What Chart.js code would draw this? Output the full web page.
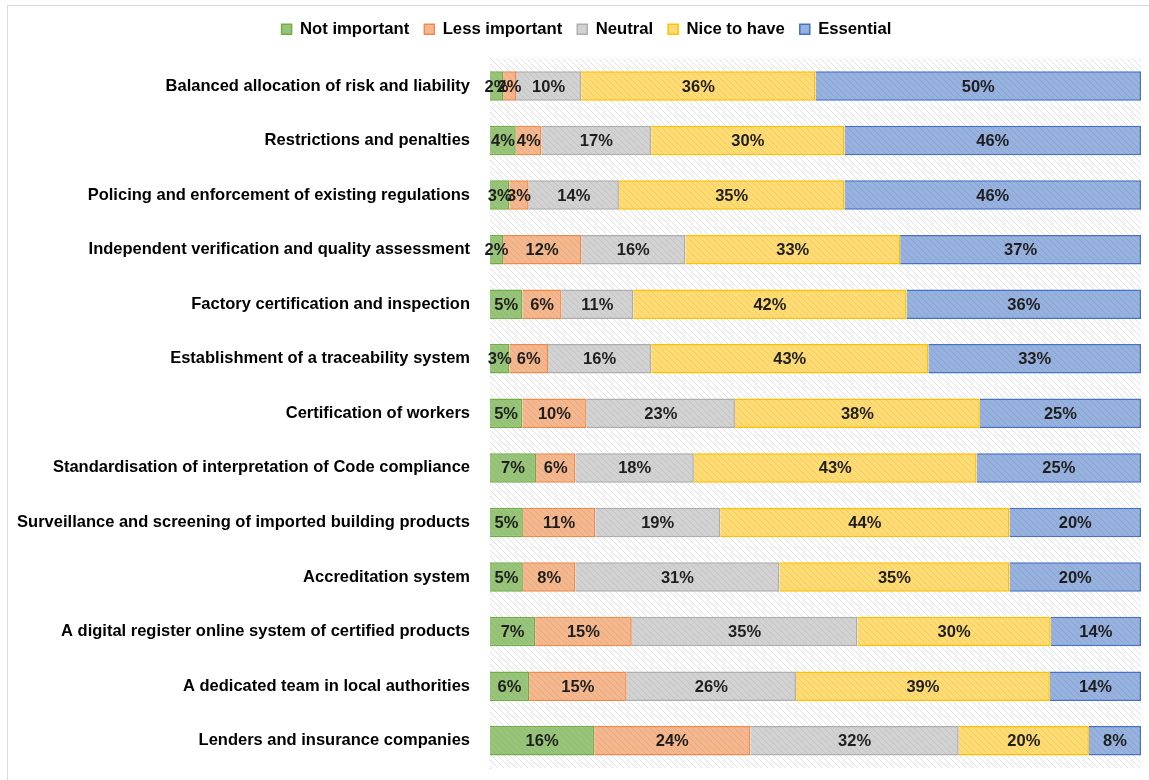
<!DOCTYPE html>
<html lang="en">
<head>
  <meta charset="UTF-8">
  <title>Importance of measures</title>
  <script src="https://cdn.jsdelivr.net/npm/chart.js"></script>
  <style>
    body { margin: 0; background: #fff; }
    #wrap { position: relative; width: 1149px; height: 780px; }
    #frame { position: absolute; left: 7px; top: 5px; width: 1150px; height: 790px; border: 1px solid #d9d9d9; pointer-events: none; }
  </style>
</head>
<body>
  <div id="wrap">
    <canvas id="grafico" width="1149" height="780"></canvas>
    <div id="frame"></div>
  </div>

  <script>
    const categories = [
      "Balanced allocation of risk and liability",
      "Restrictions and penalties",
      "Policing and enforcement of existing regulations",
      "Independent verification and quality assessment",
      "Factory certification and inspection",
      "Establishment of a traceability system",
      "Certification of workers",
      "Standardisation of interpretation of Code compliance",
      "Surveillance and screening of imported building products",
      "Accreditation system",
      "A digital register online system of certified products",
      "A dedicated team in local authorities",
      "Lenders and insurance companies"
    ];
    const notImportant  = [2, 4, 3, 2, 5, 3, 5, 7, 5, 5, 7, 6, 16];
    const lessImportant = [2, 4, 3, 12, 6, 6, 10, 6, 11, 8, 15, 15, 24];
    const neutral       = [10, 17, 14, 16, 11, 16, 23, 18, 19, 31, 35, 26, 32];
    const niceToHave    = [36, 30, 35, 33, 42, 43, 38, 43, 44, 35, 30, 39, 20];
    const essential     = [50, 46, 46, 37, 36, 33, 25, 25, 20, 20, 14, 14, 8];

    const series = [
      { label: "Not important",  raw: notImportant,  fill: "rgba(112,173,71,0.72)", line: "#70AD47" },
      { label: "Less important", raw: lessImportant, fill: "rgba(237,125,49,0.55)", line: "#F08A4B" },
      { label: "Neutral",        raw: neutral,       fill: "rgba(165,165,165,0.5)", line: "#AEAEAE" },
      { label: "Nice to have",   raw: niceToHave,    fill: "rgba(255,192,0,0.55)",  line: "#FFC000" },
      { label: "Essential",      raw: essential,     fill: "rgba(68,114,196,0.55)", line: "#4472C4" }
    ];

    // each row is drawn as 100% of its own total
    const totals = categories.map((c, i) => series.reduce((s, d) => s + d.raw[i], 0));

    const fuente = "'Liberation Sans', Arial, sans-serif";

    // hatched background for the plot area
    function hatch(ctx) {
      const c = document.createElement("canvas");
      c.width = 6; c.height = 6;
      const p = c.getContext("2d");
      p.fillStyle = "#fff";
      p.fillRect(0, 0, 6, 6);
      p.strokeStyle = "#e0e0e0";
      p.lineWidth = 1;
      p.beginPath();
      p.moveTo(-1, -1); p.lineTo(7, 7);
      p.moveTo(-1, 5); p.lineTo(1, 7);
      p.moveTo(5, -1); p.lineTo(7, 1);
      p.stroke();
      return ctx.createPattern(c, "repeat");
    }

    const fondo = {
      id: "fondo",
      afterInit(chart) {
        // leave some room between legend and plot
        const fit = chart.legend.fit;
        chart.legend.fit = function () { fit.call(this); this.height += 11; };
      },
      afterLayout(chart) {
        // legend is centred a bit to the right in the original
        chart.legend.left += 32;
      },
      beforeDatasetsDraw(chart) {
        const { ctx, chartArea: a } = chart;
        ctx.save();
        ctx.fillStyle = hatch(ctx);
        ctx.fillRect(a.left, a.top, a.right - a.left, a.bottom - a.top);
        ctx.restore();
      }
    };

    const etiquetas = {
      id: "etiquetas",
      afterDatasetsDraw(chart) {
        const ctx = chart.ctx;
        ctx.save();
        ctx.font = "bold 16.5px " + fuente;
        ctx.fillStyle = "#1e1e1e";
        ctx.textAlign = "center";
        ctx.textBaseline = "middle";
        chart.data.datasets.forEach((ds, di) => {
          chart.getDatasetMeta(di).data.forEach((el, i) => {
            ctx.fillText(ds.raw[i] + "%", (el.x + el.base) / 2, el.y + 1);
          });
        });
        ctx.restore();
      }
    };

    const ctx = document.getElementById("grafico").getContext("2d");
    new Chart(ctx, {
      type: "bar",
      data: {
        labels: categories,
        datasets: series.map(s => ({
          label: s.label,
          raw: s.raw,
          data: s.raw.map((v, i) => v / totals[i] * 100),
          backgroundColor: s.fill,
          borderColor: s.line,
          borderWidth: 1.5,
          categoryPercentage: 0.54,
          barPercentage: 1
        }))
      },
      options: {
        indexAxis: "y",
        responsive: false,
        animation: false,
        layout: { padding: { left: 0, right: 8, top: 6, bottom: 12 } },
        plugins: {
          legend: {
            position: "top",
            labels: {
              boxWidth: 10,
              boxHeight: 10,
              padding: 15,
              color: "#000",
              font: { family: fuente, size: 16.7, weight: "bold" }
            }
          },
          tooltip: { enabled: false }
        },
        scales: {
          x: {
            stacked: true,
            min: 0,
            max: 100,
            display: false
          },
          y: {
            stacked: true,
            grid: { display: false },
            border: { color: "#d0d0d0" },
            ticks: {
              color: "#000",
              padding: 12,
              font: { family: fuente, size: 16.5, weight: "bold" }
            },
            afterFit(scale) {
              scale.width = 490;
              scale.paddingTop = 0;
              scale.paddingBottom = 0;
            }
          }
        }
      },
      plugins: [fondo, etiquetas]
    });
  </script>
</body>
</html>
